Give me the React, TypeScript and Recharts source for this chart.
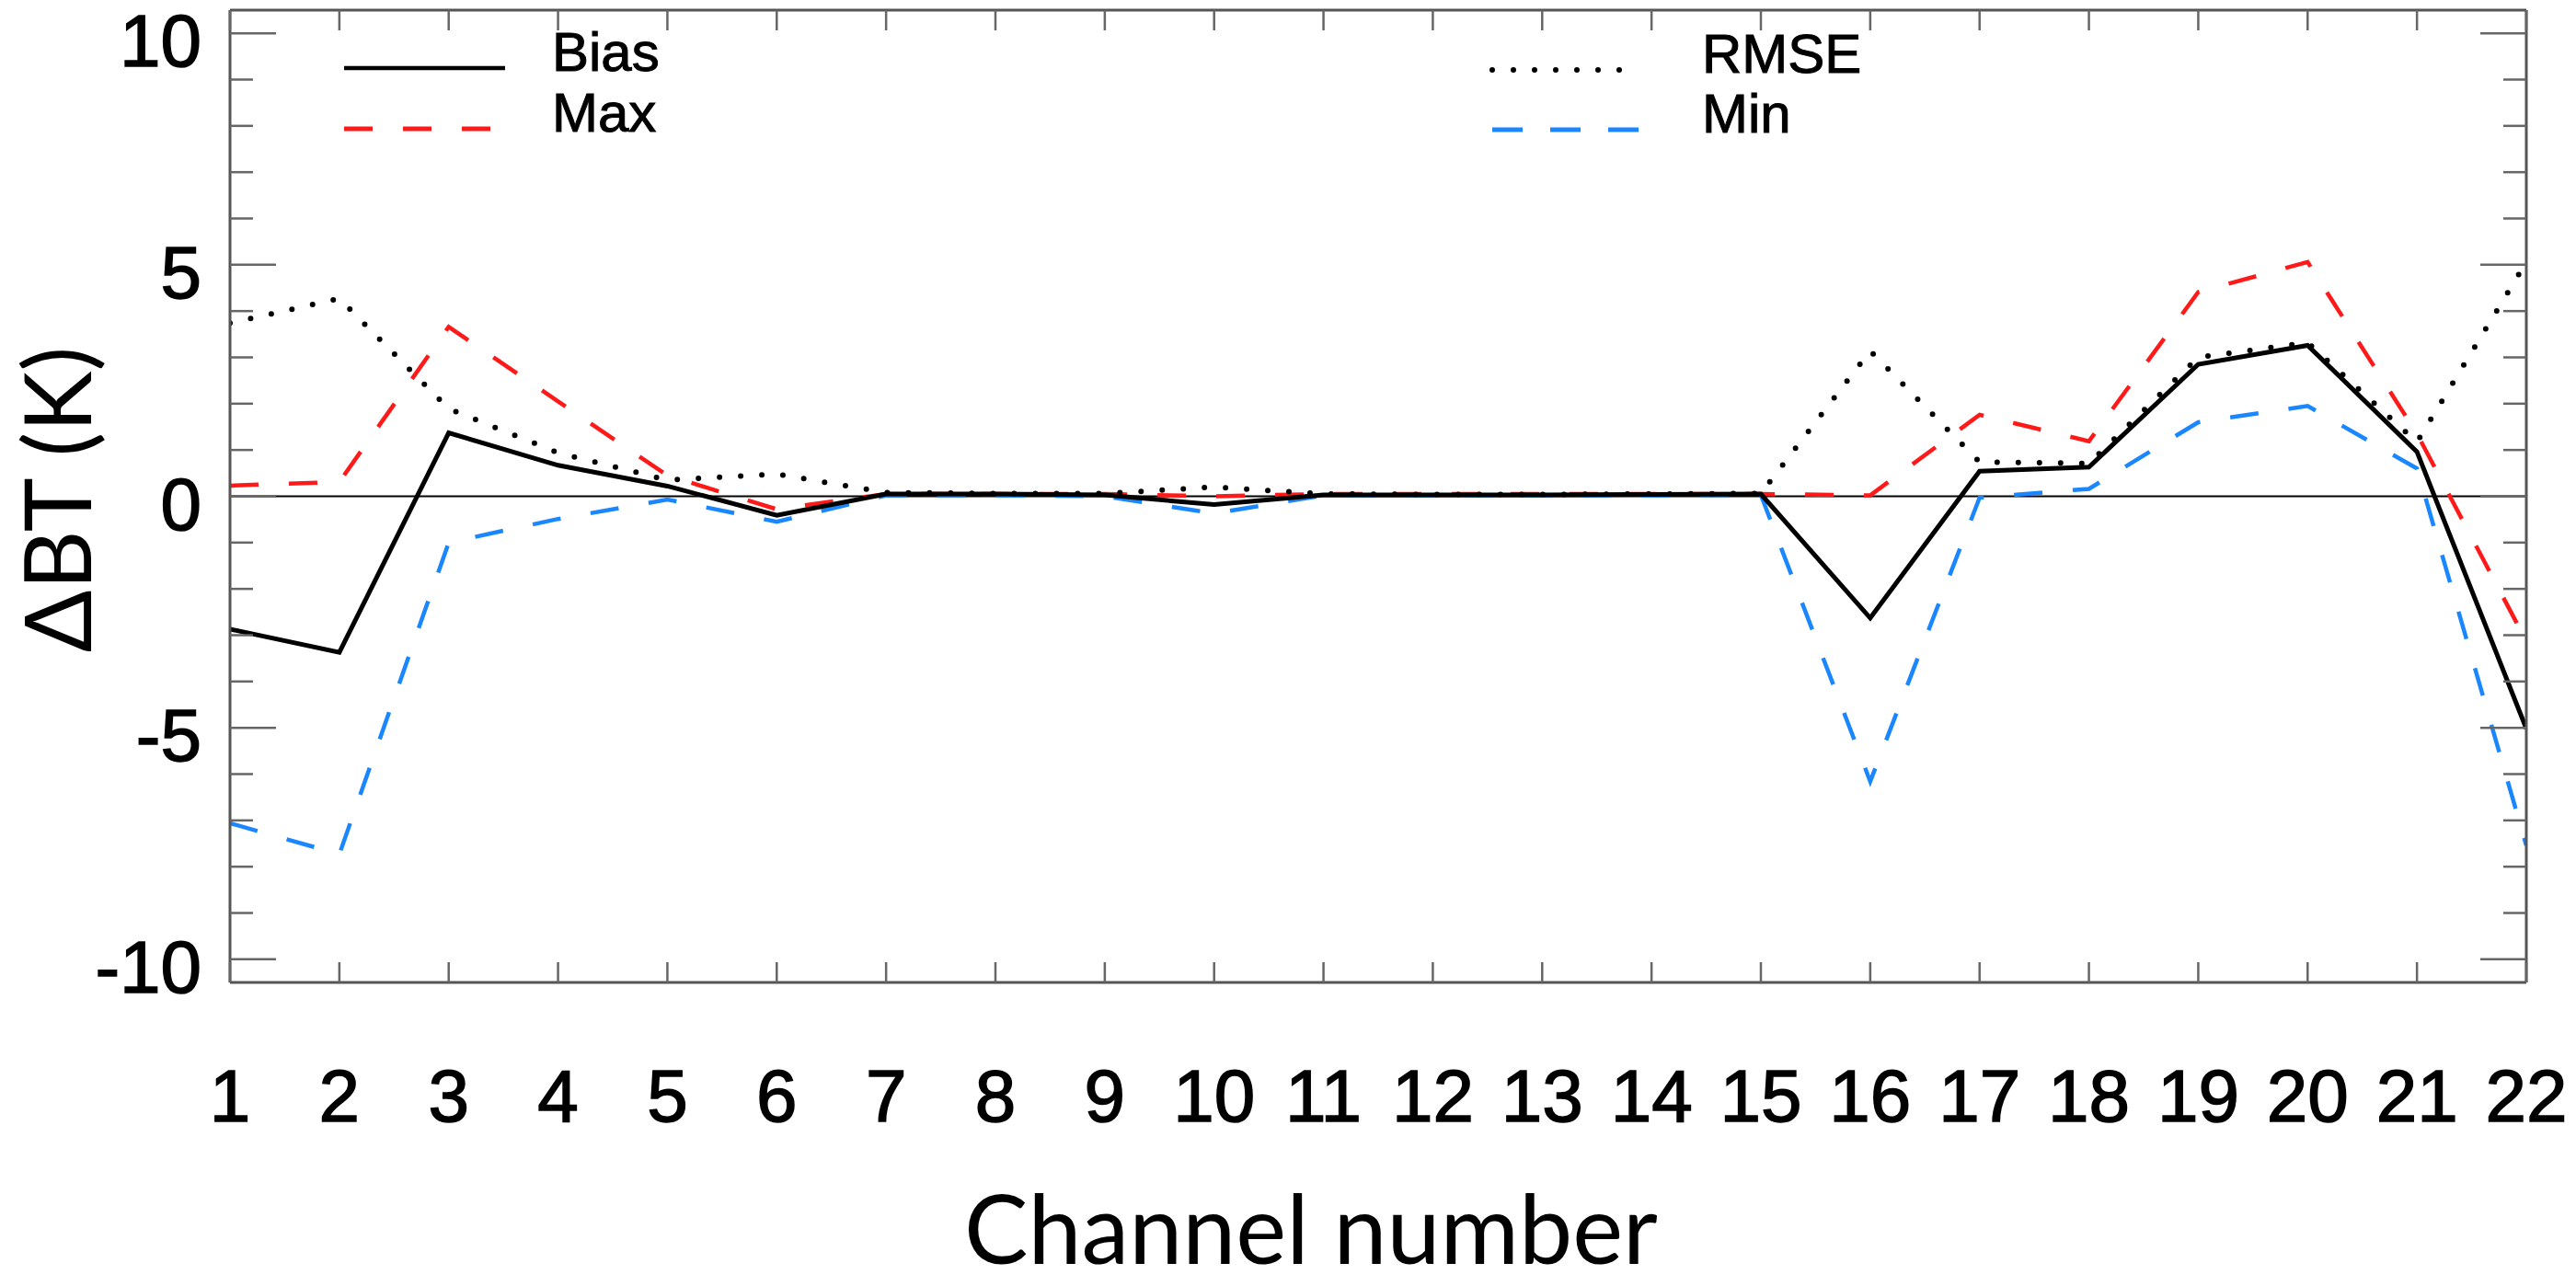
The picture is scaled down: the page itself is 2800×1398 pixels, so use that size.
import React from 'react'
import { LineChart, Line, XAxis, YAxis, ReferenceLine, Legend } from 'recharts'

// channel numbers and the four statistics (K)
const channels = [1, 2, 3, 4, 5, 6, 7, 8, 9, 10, 11, 12, 13, 14, 15, 16, 17, 18, 19, 20, 21, 22]
const bias = [-2.87, -3.37, 1.37, 0.67, 0.22, -0.41, 0.05, 0.05, 0.03, -0.18, 0.03, 0.03, 0.03, 0.04, 0.05, -2.63, 0.54, 0.63, 2.85, 3.26, 0.96, -5.02]
const rmse = [3.74, 4.27, 1.89, 0.94, 0.35, 0.48, 0.08, 0.06, 0.06, 0.2, 0.05, 0.04, 0.04, 0.05, 0.06, 3.14, 0.74, 0.71, 3.0, 3.32, 1.17, 5.06]
const maxVals = [0.23, 0.31, 3.66, 2.05, 0.45, -0.28, 0.05, 0.05, 0.05, 0.0, 0.05, 0.05, 0.05, 0.05, 0.05, 0.02, 1.76, 1.19, 4.41, 5.06, 1.35, -3.13]
const minVals = [-7.06, -7.73, -1.0, -0.49, -0.07, -0.55, 0.02, 0.02, 0.0, -0.37, 0.02, 0.02, 0.02, 0.02, 0.03, -6.16, -0.03, 0.16, 1.6, 1.95, 0.6, -7.54]

const yTicks = [-10, -9, -8, -7, -6, -5, -4, -3, -2, -1, 0, 1, 2, 3, 4, 5, 6, 7, 8, 9, 10]

const data = channels.map((ch, i) => ({
  ch,
  bias: bias[i],
  rmse: rmse[i],
  max: maxVals[i],
  min: minVals[i],
}))

const RED = '#ff1a1a'
const BLUE = '#1a86ff'
const AXIS = '#555'
const TICK = '#666'
const NUM_FONT = '"Liberation Sans", Arial, Helvetica, sans-serif'
const TITLE_FONT = 'Lato, "Noto Sans", sans-serif'

const legendItems = [
  { name: 'Bias', color: '#000', dash: undefined, width: 4.5, cap: 'butt', x1: 374, x2: 549, y: 74, tx: 600 },
  { name: 'Max', color: RED, dash: '31 33', width: 5, cap: 'butt', x1: 374, x2: 533, y: 140, tx: 600 },
  { name: 'RMSE', color: '#000', dash: '0 23', width: 6, cap: 'round', x1: 1622, x2: 1783, y: 76, tx: 1850 },
  { name: 'Min', color: BLUE, dash: '33 30', width: 5, cap: 'butt', x1: 1622, x2: 1783, y: 141, tx: 1850 },
]

const LeftTick = ({ x, y, payload }) => {
  const v = payload.value
  const major = v % 5 === 0
  return (
    <g>
      <line x1={x} x2={x + (major ? 50 : 25)} y1={y} y2={y} stroke={TICK} strokeWidth={2.5} />
      {major && (
        <text
          x={x - 31}
          y={y + 36}
          textAnchor="end"
          fontSize={80}
          fontFamily={NUM_FONT}
          fill="#000"
          stroke="#000"
          strokeWidth={1.5}
        >
          {v}
        </text>
      )}
    </g>
  )
}

const RightTick = ({ x, y, payload }) => {
  const major = payload.value % 5 === 0
  return <line x1={x} x2={x - (major ? 50 : 25)} y1={y} y2={y} stroke={TICK} strokeWidth={2.5} />
}

const TopTick = ({ x, y }) => <line x1={x} x2={x} y1={y} y2={y + 22} stroke={TICK} strokeWidth={2.5} />

const BottomTick = ({ x, y, payload }) => (
  <g>
    <line x1={x} x2={x} y1={y} y2={y - 22} stroke={TICK} strokeWidth={2.5} />
    <text
      x={x}
      y={y + 151}
      textAnchor="middle"
      fontSize={80}
      fontFamily={NUM_FONT}
      fill="#000"
      stroke="#000"
      strokeWidth={1.5}
    >
      {payload.value}
    </text>
  </g>
)

const XTitle = () => (
  <text x={1425} y={1374} textAnchor="middle" fontSize={104} fontFamily={TITLE_FONT} fill="#000">
    Channel number
  </text>
)

const YTitle = () => (
  <text
    x={99}
    y={543}
    transform="rotate(-90 99 543)"
    textAnchor="middle"
    fontSize={100}
    fontFamily={TITLE_FONT}
    fill="#000"
  >
    ΔBT (K)
  </text>
)

const renderLegend = () => (
  <svg width={2800} height={200} style={{ position: 'absolute', left: 0, top: 0, overflow: 'visible' }}>
    {legendItems.map((it) => (
      <g key={it.name}>
        <line
          x1={it.x1}
          x2={it.x2}
          y1={it.y}
          y2={it.y}
          stroke={it.color}
          strokeWidth={it.width}
          strokeDasharray={it.dash}
          strokeLinecap={it.cap}
        />
        <text
          x={it.tx}
          y={it.y + 3}
          fontSize={60}
          fontFamily={NUM_FONT}
          fill="#000"
          stroke="#000"
          strokeWidth={1}
        >
          {it.name}
        </text>
      </g>
    ))}
  </svg>
)

export default function App() {
  return (
    <div style={{ position: 'absolute', left: 0, top: 0, width: 2800, height: 1398, background: '#fff' }}>
      <LineChart width={2800} height={1398} data={data} margin={{ top: 0, right: 0, bottom: 0, left: 0 }}>
        <XAxis
          xAxisId="b"
          dataKey="ch"
          type="number"
          domain={[1, 22]}
          ticks={channels}
          interval={0}
          allowDataOverflow
          height={330}
          tickSize={0}
          tickMargin={0}
          tickLine={false}
          axisLine={{ stroke: AXIS, strokeWidth: 3 }}
          tick={BottomTick}
          label={XTitle}
        />
        <XAxis
          xAxisId="t"
          orientation="top"
          dataKey="ch"
          type="number"
          domain={[1, 22]}
          ticks={channels}
          interval={0}
          allowDataOverflow
          height={11}
          tickSize={0}
          tickMargin={0}
          tickLine={false}
          axisLine={{ stroke: AXIS, strokeWidth: 3 }}
          tick={TopTick}
        />
        <YAxis
          yAxisId="l"
          type="number"
          domain={[-10.5, 10.5]}
          ticks={yTicks}
          interval={0}
          allowDataOverflow
          width={250}
          tickSize={0}
          tickMargin={0}
          tickLine={false}
          axisLine={{ stroke: AXIS, strokeWidth: 3 }}
          tick={LeftTick}
          label={YTitle}
        />
        <YAxis
          yAxisId="r"
          orientation="right"
          type="number"
          domain={[-10.5, 10.5]}
          ticks={yTicks}
          interval={0}
          allowDataOverflow
          width={54}
          tickSize={0}
          tickMargin={0}
          tickLine={false}
          axisLine={{ stroke: AXIS, strokeWidth: 3 }}
          tick={RightTick}
        />
        <ReferenceLine xAxisId="b" yAxisId="l" y={0} stroke="#000" strokeWidth={2} />
        <Line
          xAxisId="b"
          yAxisId="l"
          type="linear"
          dataKey="max"
          name="Max"
          stroke={RED}
          strokeWidth={4.5}
          strokeDasharray="31 33"
          dot={false}
          activeDot={false}
          isAnimationActive={false}
        />
        <Line
          xAxisId="b"
          yAxisId="l"
          type="linear"
          dataKey="min"
          name="Min"
          stroke={BLUE}
          strokeWidth={4.5}
          strokeDasharray="31 33"
          dot={false}
          activeDot={false}
          isAnimationActive={false}
        />
        <Line
          xAxisId="b"
          yAxisId="l"
          type="linear"
          dataKey="bias"
          name="Bias"
          stroke="#000"
          strokeWidth={5}
          dot={false}
          activeDot={false}
          isAnimationActive={false}
        />
        <Line
          xAxisId="b"
          yAxisId="l"
          type="linear"
          dataKey="rmse"
          name="RMSE"
          stroke="#000"
          strokeWidth={6}
          strokeDasharray="0 23"
          strokeLinecap="round"
          dot={false}
          activeDot={false}
          isAnimationActive={false}
        />
        <Legend
          content={renderLegend}
          wrapperStyle={{ position: 'absolute', left: 0, top: 0, width: 0, height: 0, overflow: 'visible' }}
        />
      </LineChart>
    </div>
  )
}
